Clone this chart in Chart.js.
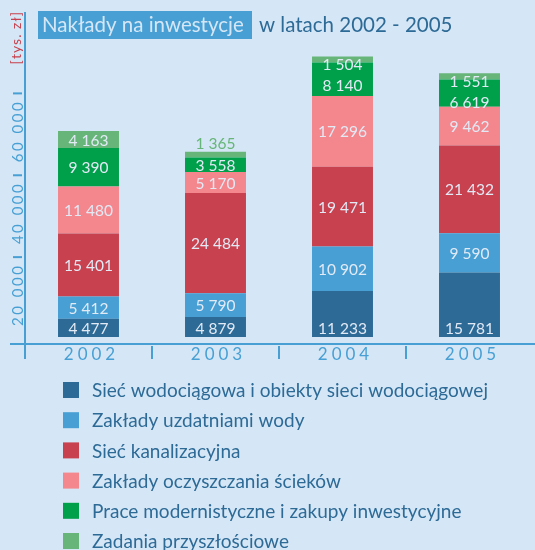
<!DOCTYPE html>
<html>
<head>
<meta charset="utf-8">
<script src="https://cdn.jsdelivr.net/npm/chart.js@4"></script>
<style>
  body { margin: 0; background: #d5e7f6; overflow: hidden; }
  canvas { display: block; }
</style>
</head>
<body>
<canvas id="myChart" width="535" height="550"></canvas>
<script>
const years = ["2002", "2003", "2004", "2005"];

const waterNetwork = [4477, 4879, 11233, 15781];
const waterTreatment = [5412, 5790, 10902, 9590];
const sewerNetwork = [15401, 24484, 19471, 21432];
const sewageTreatment = [11480, 5170, 17296, 9462];
const modernisation = [9390, 3558, 8140, 6619];
const futureTasks = [4163, 1365, 1504, 1551];

const seriesNames = [
  "Sieć wodociągowa i obiekty sieci wodociągowej",
  "Zakłady uzdatniami wody",
  "Sieć kanalizacyjna",
  "Zakłady oczyszczania ścieków",
  "Prace modernistyczne i zakupy inwestycyjne",
  "Zadania przyszłościowe",
];
const seriesValues = [waterNetwork, waterTreatment, sewerNetwork, sewageTreatment, modernisation, futureTasks];
const seriesColors = ["#2d6a96", "#479fd4", "#c8414e", "#f4868d", "#009f4a", "#67b578"];

const yTicks = [20000, 40000, 60000];
const yTickLabels = ["20 000", "40 000", "60 000"];

const BG = "#d5e7f6";
const DARK = "#2d6a96";
const BLUE = "#479fd4";
const LABEL = "#e2eaf6";
const FONT = "Lato, 'Open Sans', sans-serif";

function fmt(n) {
  return n.toString().replace(/\B(?=(\d{3})+(?!\d))/g, " ");
}

// draws text letter by letter with extra spacing, starting at x (left aligned)
function spacedWidth(c, text, gap) {
  let w = 0;
  for (const ch of text) w += c.measureText(ch).width + gap;
  return w - gap;
}
function drawSpaced(c, text, x, y, gap) {
  let px = x;
  for (const ch of text) {
    c.fillText(ch, px, y);
    px += c.measureText(ch).width + gap;
  }
}

const background = {
  id: "background",
  beforeDraw(chart) {
    const c = chart.ctx;
    c.save();
    c.fillStyle = BG;
    c.fillRect(0, 0, chart.width, chart.height);
    c.restore();
  },
};

const decorations = {
  id: "decorations",
  afterDraw(chart) {
    const c = chart.ctx;
    const x = chart.scales.x;
    const y = chart.scales.y;
    c.save();
    c.textAlign = "left";

    // title
    c.fillStyle = BLUE;
    c.fillRect(38, 11, 214, 28);
    c.font = "20.5px " + FONT;
    c.textBaseline = "alphabetic";
    c.fillStyle = BG;
    c.fillText("Nakłady na inwestycje", 42, 32);
    c.fillStyle = DARK;
    c.fillText("w latach 2002 - 2005", 259, 32);

    // axes
    c.fillStyle = BLUE;
    c.fillRect(24, 12, 2, 347);
    c.fillRect(10, 343, chart.width - 10, 2);

    // y ticks: rotated, reading upwards, ending just below the dash
    c.font = "15px " + FONT;
    c.textBaseline = "middle";
    yTicks.forEach((v, i) => {
      const py = y.getPixelForValue(v) + 2;
      c.fillStyle = BLUE;
      c.fillRect(13, py - 1, 9, 2);
      const w = spacedWidth(c, yTickLabels[i], 2.5);
      c.save();
      c.translate(18, py + 9 + w);
      c.rotate(-Math.PI / 2);
      drawSpaced(c, yTickLabels[i], 0, 0, 2.5);
      c.restore();
    });

    // y unit
    c.save();
    c.font = "14px " + FONT;
    c.fillStyle = "#c8414e";
    const uw = spacedWidth(c, "[tys. zł]", 1);
    c.translate(16, 12 + uw);
    c.rotate(-Math.PI / 2);
    drawSpaced(c, "[tys. zł]", 0, 0, 1);
    c.restore();

    // x labels and separators
    c.font = "17px " + FONT;
    years.forEach((yr, i) => {
      const px = x.getPixelForTick(i);
      c.fillStyle = BLUE;
      const w = spacedWidth(c, yr, 4);
      drawSpaced(c, yr, px + 1 - w / 2, 355, 4);
      if (i < years.length - 1) {
        const next = x.getPixelForTick(i + 1);
        c.fillRect(Math.round((px + next) / 2) - 1, 346, 2, 13);
      }
    });

    // legend
    c.font = "19px " + FONT;
    seriesNames.forEach((name, k) => {
      const cy = 390 + k * 30.2;
      c.fillStyle = seriesColors[k];
      c.fillRect(63, cy - 8, 16, 16);
      c.fillStyle = DARK;
      c.fillText(name, 92, cy + 1);
    });

    c.restore();
  },
};

const valueLabels = {
  id: "valueLabels",
  afterDatasetsDraw(chart) {
    const c = chart.ctx;
    c.save();
    c.font = "15.5px " + FONT;
    c.textAlign = "center";
    c.textBaseline = "middle";
    const metas = seriesValues.map((_, k) => chart.getDatasetMeta(k));
    years.forEach((_, i) => {
      const bars = metas.map((m) => m.data[i]);
      const h = bars.map((b) => b.base - b.y);
      const topInside = h[5] < 12 && h[4] >= 20;
      bars.forEach((b, k) => {
        let ly = (b.y + b.base) / 2;
        let color = LABEL;
        if (k === 0) ly = b.base - 9;
        if (k === 5 && h[5] < 12) {
          if (topInside) {
            ly = b.base + 1;
          } else {
            ly = b.y - 9;
            color = seriesColors[5];
          }
        }
        if (k === 4 && topInside) ly = Math.max(ly, bars[5].base + 22);
        c.fillStyle = color;
        c.fillText(fmt(seriesValues[k][i]), b.x, ly + 1);
      });
    });
    c.restore();
  },
};

const ctx = document.getElementById("myChart").getContext("2d");
const myChart = new Chart(ctx, {
  type: "bar",
  data: {
    labels: years,
    datasets: seriesNames.map((name, k) => ({
      label: name,
      data: seriesValues[k],
      backgroundColor: seriesColors[k],
      borderWidth: 0,
      barPercentage: 0.48,
      categoryPercentage: 1,
    })),
  },
  options: {
    responsive: false,
    animation: false,
    devicePixelRatio: 1,
    layout: { padding: { left: 25, top: 30, right: 2, bottom: 213 } },
    plugins: {
      legend: { display: false },
      tooltip: { enabled: false },
    },
    scales: {
      x: { stacked: true, display: false },
      y: { stacked: true, display: false, min: 0, max: 75000 },
    },
  },
  plugins: [background, decorations, valueLabels],
});
</script>
</body>
</html>
